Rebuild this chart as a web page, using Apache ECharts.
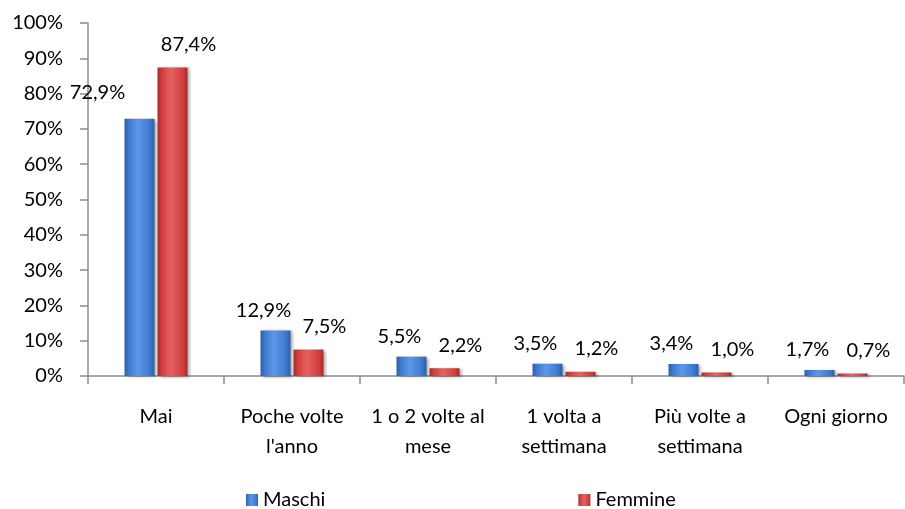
<!DOCTYPE html>
<html>
<head>
<meta charset="utf-8">
<script src="https://cdn.jsdelivr.net/npm/echarts@6/dist/echarts.min.js"></script>
<style>
  html, body { margin: 0; padding: 0; background: #fff; }
  #main { width: 905px; height: 509px; }
</style>
</head>
<body>
<div id="main"></div>
<script>
// categorie e valori (%)
var categories = ['Mai', "Poche volte\nl'anno", '1 o 2 volte al\nmese', '1 volta a\nsettimana', 'Più volte a\nsettimana', 'Ogni giorno'];
var maschi = [72.9, 12.9, 5.5, 3.5, 3.4, 1.7];
var femmine = [87.4, 7.5, 2.2, 1.2, 1.0, 0.7];
var seriesNames = ['Maschi', 'Femmine'];

var FONT = 'Lato';
var FS = 20;

function barGradient(dark, mid, light) {
  return new echarts.graphic.LinearGradient(0, 0, 1, 0, [
    { offset: 0, color: dark },
    { offset: 0.15, color: mid },
    { offset: 0.45, color: light },
    { offset: 0.85, color: mid },
    { offset: 1, color: dark }
  ]);
}

function fmt(v) {
  return v.toFixed(1).replace('.', ',') + '%';
}

var chart = echarts.init(document.getElementById('main'), null, { renderer: 'canvas' });

var option = {
  backgroundColor: '#ffffff',
  animation: false,
  textStyle: { fontFamily: FONT, color: '#000' },
  grid: {
    left: 88,
    right: 1,
    top: 23,
    bottom: 133
  },
  legend: {
    data: seriesNames,
    left: 241,
    top: 485,
    itemWidth: 12,
    itemHeight: 12,
    itemGap: 253,
    icon: 'rect',
    textStyle: { fontFamily: FONT, fontSize: FS, color: '#000' }
  },
  xAxis: {
    type: 'category',
    data: categories,
    axisLine: { lineStyle: { color: '#8c8c8c', width: 1.5 } },
    axisTick: { show: true, length: 8, lineStyle: { color: '#8c8c8c', width: 1.5 } },
    axisLabel: {
      fontFamily: FONT,
      fontSize: FS,
      color: '#000',
      margin: 26,
      lineHeight: 30,
      interval: 0
    }
  },
  yAxis: {
    type: 'value',
    min: 0,
    max: 100,
    interval: 10,
    axisLine: { show: true, lineStyle: { color: '#8c8c8c', width: 1.5 } },
    axisTick: { show: true, length: 8, lineStyle: { color: '#8c8c8c', width: 1.5 } },
    splitLine: { show: false },
    axisLabel: {
      fontFamily: FONT,
      fontSize: FS,
      color: '#000',
      margin: 25,
      formatter: '{value}%'
    }
  },
  series: [
    {
      name: seriesNames[0],
      type: 'bar',
      barWidth: 30,
      barGap: '10%',
      data: maschi.map(function (v, i) {
        // etichetta di "Mai" spostata a sinistra come nell'originale
        return i === 0 ? { value: v, label: { offset: [-42, -11] } } : v;
      }),
      itemStyle: {
        color: barGradient('#2a5ea8', '#3d7ad0', '#5d98e6'),
        shadowColor: 'rgba(0,0,0,0.35)',
        shadowBlur: 3,
        shadowOffsetX: 2,
        shadowOffsetY: 1
      },
      label: {
        show: true,
        position: 'top',
        offset: [-12, -5],
        distance: 5,
        fontFamily: FONT,
        fontSize: FS,
        color: '#000',
        formatter: function (p) { return fmt(p.value); }
      }
    },
    {
      name: seriesNames[1],
      type: 'bar',
      barWidth: 30,
      data: femmine,
      itemStyle: {
        color: barGradient('#a52a2a', '#d23d3d', '#e56262'),
        shadowColor: 'rgba(0,0,0,0.35)',
        shadowBlur: 3,
        shadowOffsetX: 2,
        shadowOffsetY: 1
      },
      label: {
        show: true,
        position: 'top',
        offset: [16, -8],
        distance: 5,
        fontFamily: FONT,
        fontSize: FS,
        color: '#000',
        formatter: function (p) { return fmt(p.value); }
      }
    }
  ]
};

chart.setOption(option);
</script>
</body>
</html>
